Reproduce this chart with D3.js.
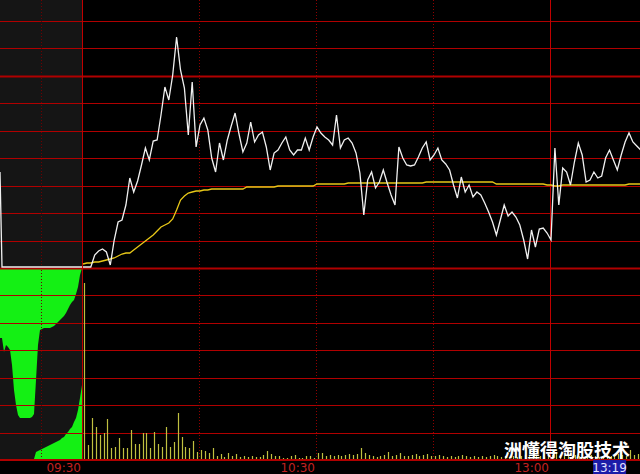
<!DOCTYPE html>
<html>
<head>
<meta charset="utf-8">
<script src="https://cdn.jsdelivr.net/npm/d3@7"></script>
<style>
  body { margin: 0; background: #000; overflow: hidden; }
</style>
</head>
<body>
<script>
// intraday minute data from 09:30 (index 0), 11:30 = 120, then 13:01 onwards
var preClose = 30.00;
var prices = [30.01, 30.01, 30.01, 30.13, 30.17, 30.19, 30.16, 30.03, 30.28, 30.46,
  30.48, 30.63, 30.90, 30.76, 30.87, 31.03, 31.20, 31.08, 31.27, 31.28,
  31.53, 31.81, 31.68, 31.93, 32.31, 31.98, 31.80, 31.33, 31.86, 31.21,
  31.43, 31.50, 31.38, 31.10, 30.96, 31.25, 31.08, 31.28, 31.42, 31.55,
  31.34, 31.16, 31.25, 31.46, 31.26, 31.33, 31.36, 31.21, 30.98, 31.15,
  31.18, 31.25, 31.31, 31.18, 31.13, 31.18, 31.18, 31.30, 31.18, 31.31,
  31.41, 31.35, 31.31, 31.28, 31.23, 31.53, 31.20, 31.28, 31.30, 31.25,
  31.15, 30.95, 30.53, 30.88, 30.96, 30.80, 30.86, 30.98, 30.85, 30.73,
  30.63, 31.21, 31.10, 31.03, 31.02, 31.03, 31.11, 31.20, 31.26, 31.08,
  31.13, 31.20, 31.08, 31.04, 30.98, 30.83, 30.70, 30.91, 30.76, 30.83,
  30.71, 30.76, 30.73, 30.65, 30.56, 30.46, 30.33, 30.48, 30.63, 30.52,
  30.56, 30.51, 30.43, 30.28, 30.09, 30.38, 30.21, 30.39, 30.40, 30.35,
  30.28, 31.20, 30.63, 31.00, 30.96, 30.83, 31.06, 31.25, 31.13, 30.86,
  30.88, 30.96, 30.90, 30.92, 31.10, 31.18, 31.08, 30.98, 31.13, 31.26,
  31.35, 31.26, 31.22, 31.18];
var avgPrices = [30.04, 30.05, 30.05, 30.06, 30.06, 30.07, 30.08, 30.09, 30.10, 30.12,
  30.14, 30.15, 30.15, 30.18, 30.21, 30.24, 30.27, 30.30, 30.33, 30.37,
  30.41, 30.43, 30.45, 30.49, 30.58, 30.68, 30.72, 30.75, 30.76, 30.77,
  30.77, 30.78, 30.78, 30.79, 30.79, 30.79, 30.79, 30.79, 30.79, 30.79,
  30.79, 30.79, 30.81, 30.81, 30.81, 30.81, 30.81, 30.81, 30.81, 30.81,
  30.82, 30.82, 30.82, 30.82, 30.82, 30.82, 30.82, 30.82, 30.82, 30.82,
  30.84, 30.84, 30.84, 30.84, 30.84, 30.84, 30.84, 30.84, 30.85, 30.85,
  30.85, 30.85, 30.85, 30.85, 30.85, 30.85, 30.85, 30.85, 30.85, 30.85,
  30.85, 30.85, 30.85, 30.85, 30.85, 30.85, 30.85, 30.85, 30.86, 30.86,
  30.86, 30.86, 30.86, 30.86, 30.86, 30.86, 30.86, 30.86, 30.86, 30.86,
  30.86, 30.86, 30.86, 30.86, 30.86, 30.86, 30.84, 30.84, 30.84, 30.84,
  30.84, 30.84, 30.84, 30.84, 30.84, 30.84, 30.84, 30.84, 30.84, 30.83,
  30.83, 30.82, 30.82, 30.83, 30.83, 30.83, 30.83, 30.83, 30.83, 30.83,
  30.83, 30.83, 30.83, 30.83, 30.83, 30.83, 30.83, 30.83, 30.83, 30.83,
  30.84, 30.84, 30.84, 30.84];
var volumes = [17600, 1400, 4100, 3200, 2400, 2600, 4000, 1100, 1200, 2100,
  1100, 1100, 2900, 1500, 1500, 2600, 2600, 1100, 2700, 1500,
  1200, 3200, 1200, 1700, 4600, 2200, 1200, 1100, 1800, 700,
  900, 800, 600, 1100, 300, 500, 200, 600, 300, 500,
  200, 300, 200, 300, 200, 200, 400, 800, 500, 300,
  300, 100, 100, 300, 400, 100, 100, 300, 300, 100,
  600, 600, 300, 400, 300, 400, 300, 400, 500, 400,
  500, 1100, 600, 400, 300, 200, 300, 400, 700, 300,
  400, 600, 300, 300, 400, 500, 300, 400, 500, 300,
  300, 400, 300, 200, 300, 200, 300, 400, 300, 200,
  300, 200, 300, 200, 300, 400, 300, 200, 300, 200,
  300, 200, 300, 400, 300, 200, 300, 300, 200, 300,
  400, 600, 400, 300, 500, 300, 400, 300, 200, 300,
  400, 300, 200, 300, 400, 300, 300, 500, 400, 300,
  900, 400, 500, 300];

// call auction panel (09:15 - 09:25), sampled evenly
var aucPrice = [30.96, 30.01, 30.01, 30.01, 30.01, 30.01, 30.01, 30.01, 30.01, 30.01,
  30.01, 30.01, 30.01, 30.01, 30.01, 30.01, 30.01, 30.01, 30.01, 30.01,
  30.01, 30.01, 30.01, 30.01, 30.01, 30.01, 30.01, 30.01, 30.01, 30.01,
  30.01, 30.01, 30.01, 30.01, 30.01, 30.01, 30.01, 30.01, 30.01, 30.01,
  30.01, 30.01];
var aucUnmatched = [7000, 7000, 8400, 7700, 7900, 8200, 9700, 12200, 13700, 14700,
  15000, 15000, 15000, 15000, 15000, 15000, 14900, 14600, 11200, 7700,
  6200, 6100, 6000, 6000, 6000, 6000, 5900, 5800, 5600, 5400,
  5200, 5000, 4800, 4500, 4100, 3700, 3400, 3200, 2600, 1900,
  700, 0];
var aucMatched = [0, 0, 0, 0, 0, 0, 0, 0, 0, 0,
  0, 0, 0, 0, 0, 0, 0, 0, 700, 800,
  900, 1000, 1100, 1200, 1300, 1400, 1500, 1600, 1700, 1800,
  1900, 2100, 2200, 2500, 2700, 3000, 3200, 3700, 4100, 4900,
  6100, 7400];

var timeTicks = [{ i: 0, label: "09:30" }, { i: 60, label: "10:30" }, { i: 120, label: "13:00" }];
var cursor = { i: 139, label: "13:19" };
var watermark = "洲懂得淘股技术";

var width = 640, height = 474;
var svg = d3.select("body").append("svg").attr("width", width).attr("height", height)
  .style("display", "block").style("background", "#000");

var x = d3.scaleLinear().domain([0, 240]).range([83, 83 + 3.9 * 240]);
var xAuc = d3.scaleLinear().domain([0, aucPrice.length - 1]).range([0, 82]);
var y = d3.scaleLinear().domain([preClose, preClose + 2.48]).range([268, 20]);
var yVol = d3.scaleLinear().domain([0, 17600]).range([459, 283]);
var yAuc = d3.scaleLinear().domain([0, 19000]).range([268, 458]);

// auction panel background
svg.append("rect").attr("x", 0).attr("y", 0).attr("width", 82).attr("height", 459).attr("fill", "#151515");

svg.append("path")
  .datum(aucUnmatched)
  .attr("fill", "#14f014")
  .attr("d", d3.area().x(function (d, i) { return xAuc(i); }).y0(yAuc(0)).y1(function (d) { return yAuc(d); }));

svg.append("path")
  .datum(aucMatched)
  .attr("fill", "#14f014")
  .attr("d", d3.area().x(function (d, i) { return xAuc(i); }).y0(yVol(0)).y1(function (d) { return yVol(d); }));

// horizontal grid
var step = 0.2745;
var gridLevels = d3.range(-7, 10).map(function (k) { return { k: k, v: preClose + k * step }; });
svg.selectAll("line.h").data(gridLevels).enter().append("line")
  .attr("x1", 0).attr("x2", width)
  .attr("y1", function (d) { return Math.round(y(d.v)) + 0.5; })
  .attr("y2", function (d) { return Math.round(y(d.v)) + 0.5; })
  .attr("stroke", "#b00000")
  .attr("stroke-width", function (d) { return (d.k == 0 || d.k == 7) ? 2 : 1; });

// vertical grid
var vGrid = [0, 30, 60, 90, 120];
svg.selectAll("line.v").data(vGrid).enter().append("line")
  .attr("x1", function (d) { return Math.round(x(d)) - 0.5; })
  .attr("x2", function (d) { return Math.round(x(d)) - 0.5; })
  .attr("y1", 0).attr("y2", 459)
  .attr("stroke", function (d) { return (d % 120 == 0) ? "#c00000" : "#900000"; })
  .attr("stroke-dasharray", function (d) { return (d % 120 == 0) ? null : "1,2"; });
svg.append("line").attr("x1", 41.5).attr("x2", 41.5).attr("y1", 0).attr("y2", 459)
  .attr("stroke", "#700000").attr("stroke-dasharray", "1,2");

// volume bars
svg.selectAll("line.vol").data(volumes).enter().append("line")
  .attr("x1", function (d, i) { return Math.round(x(i)) + 1.5; })
  .attr("x2", function (d, i) { return Math.round(x(i)) + 1.5; })
  .attr("y1", yVol(0))
  .attr("y2", function (d) { return yVol(d); })
  .attr("stroke", "#c0c040").attr("stroke-width", 1.2);

// auction price
svg.append("path").datum(aucPrice)
  .attr("fill", "none").attr("stroke", "#f0f0f0").attr("stroke-width", 1.3)
  .attr("d", d3.line().x(function (d, i) { return xAuc(i); }).y(function (d) { return y(d); }));

// average price
svg.append("path").datum(avgPrices)
  .attr("fill", "none").attr("stroke", "#e8c818").attr("stroke-width", 1.3)
  .attr("d", d3.line().x(function (d, i) { return x(i); }).y(function (d) { return y(d); }));

// price line
svg.append("path").datum(prices)
  .attr("fill", "none").attr("stroke", "#f0f0f0").attr("stroke-width", 1.3)
  .attr("d", d3.line().x(function (d, i) { return x(i); }).y(function (d) { return y(d); }));

// bottom axis line
svg.append("line").attr("x1", 0).attr("x2", width).attr("y1", 459.5).attr("y2", 459.5)
  .attr("stroke", "#b00000");

// time labels
svg.selectAll("text.t").data(timeTicks).enter().append("text")
  .attr("x", function (d) { return x(d.i) - 2; })
  .attr("y", 472)
  .attr("text-anchor", "end")
  .attr("fill", "#c02020")
  .style("font-family", "DejaVu Sans, sans-serif")
  .style("font-size", "12px")
  .text(function (d) { return d.label; });

var cx = x(cursor.i);
svg.append("rect").attr("x", cx - 32).attr("y", 460).attr("width", 33).attr("height", 14).attr("fill", "#1c1ca8");
svg.append("text").attr("x", cx - 15.5).attr("y", 472).attr("text-anchor", "middle")
  .attr("fill", "#e0e0ff").style("font-family", "DejaVu Sans, sans-serif").style("font-size", "12px")
  .text(cursor.label);

// watermark
svg.append("text").attr("x", 504).attr("y", 457)
  .attr("fill", "#ffffff")
  .style("font-family", "Noto Sans CJK SC, sans-serif")
  .style("font-size", "18px").style("font-weight", "bold")
  .text(watermark);
</script>
</body>
</html>
